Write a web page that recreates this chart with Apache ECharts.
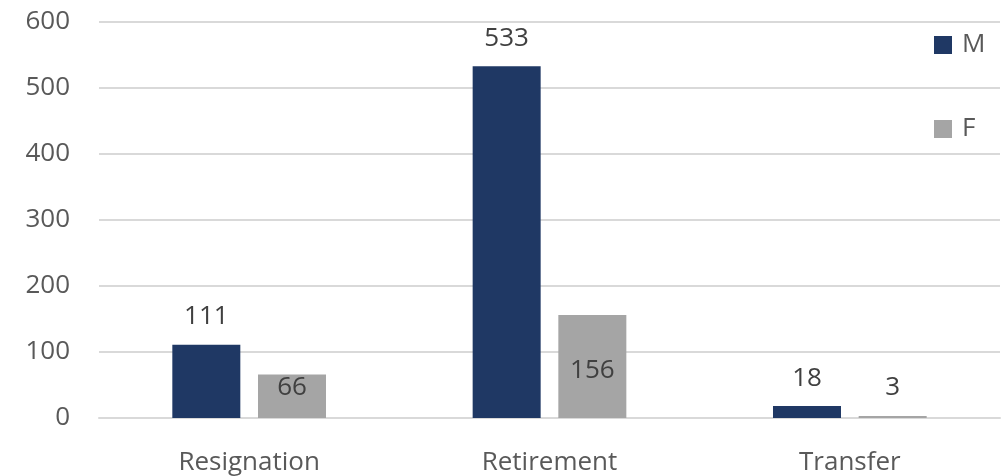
<!DOCTYPE html>
<html>
<head>
<meta charset="utf-8">
<script src="https://cdn.jsdelivr.net/npm/echarts@6/dist/echarts.min.js"></script>
<style>
html,body{margin:0;padding:0;background:#fff;}
#chart{width:1005px;height:476px;}
</style>
</head>
<body>
<div id="chart"></div>
<script>
var categories = ['Resignation', 'Retirement', 'Transfer'];
var maleValues = [111, 533, 18];
var femaleValues = [66, 156, 3];
// where the F labels sit, like in the source
var femaleLabelPos = ['insideTop', 'inside', 'top'];

var myChart = echarts.init(document.getElementById('chart'));
var font = 'Open Sans';

var femaleData = femaleValues.map(function(v, i){
	var pos = femaleLabelPos[i];
	return {value: v, label: {position: pos, distance: pos == 'top' ? 15 : 0, offset: pos == 'inside' ? [0, 4] : [0, 0]}};
});

var option = {
	animation: false,
	textStyle: {fontFamily: font},
	grid: {left: 99, right: 5, top: 22, bottom: 57},
	legend: {
		orient: 'vertical',
		left: 934,
		top: 32,
		padding: 0,
		itemWidth: 18,
		itemHeight: 18,
		itemGap: 58,
		icon: 'rect',
		data: ['M', 'F'],
		textStyle: {fontSize: 26, color: '#595959', fontFamily: font, padding: [0, 0, 0, 5]}
	},
	xAxis: {
		type: 'category',
		data: categories,
		axisLine: {lineStyle: {color: '#D9D9D9', width: 2}},
		axisTick: {show: false},
		axisLabel: {fontSize: 26, color: '#595959', margin: 32, fontFamily: font}
	},
	yAxis: {
		type: 'value',
		min: 0,
		max: 600,
		interval: 100,
		axisLine: {show: false},
		axisTick: {show: false},
		splitLine: {lineStyle: {color: '#D9D9D9', width: 2}},
		axisLabel: {fontSize: 26, color: '#595959', margin: 29, fontFamily: font}
	},
	series: [
		{
			name: 'M',
			type: 'bar',
			barWidth: 68,
			barGap: '26%',
			itemStyle: {color: '#1F3864'},
			label: {show: true, position: 'top', distance: 15, fontSize: 26, color: '#404040', fontFamily: font},
			data: maleValues
		},
		{
			name: 'F',
			type: 'bar',
			barWidth: 68,
			itemStyle: {color: '#A5A5A5'},
			label: {show: true, fontSize: 26, color: '#404040', fontFamily: font},
			data: femaleData
		}
	]
};
myChart.setOption(option);
</script>
</body>
</html>
